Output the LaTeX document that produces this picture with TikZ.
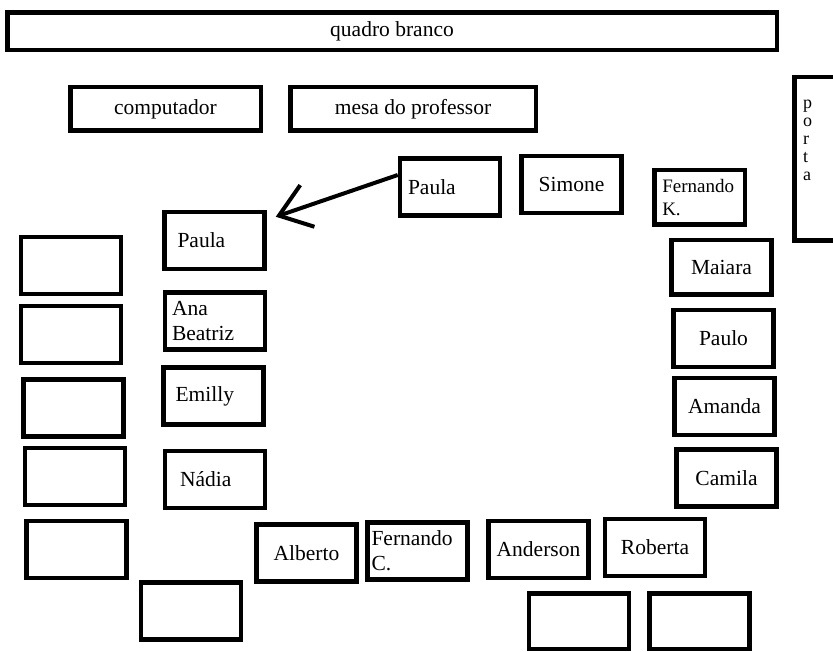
\documentclass[tikz,border=0pt]{standalone}
\usepackage{fontspec}
\setmainfont{Liberation Serif}
\usepackage{tikz}
\usetikzlibrary{arrows.meta}
\tikzset{desk/.style={draw, line width=4.5pt, inner sep=0pt, minimum width=100pt, minimum height=57pt, font=\fontsize{21.5}{25}\selectfont}}
\tikzset{deskl/.style={desk, align=left, inner xsep=8pt, text width=84pt}}

\begin{document}
\begin{tikzpicture}[x=1pt, y=-1pt]
    \useasboundingbox (0,0) rectangle (833,652);
    \node [desk, minimum width=769.5pt, minimum height=37.5pt] (quadro) at (392,31.5) {quadro branco};
    \node [desk, minimum width=190.5pt, minimum height=43.5pt] (computador) at (165.5,109) {computador};
    \node [desk, minimum width=245.5pt, minimum height=43.5pt] (mesa) at (413,109) {mesa do professor};
    \node [desk, minimum width=43.5pt, minimum height=163.5pt, font=\fontsize{18}{18}\selectfont] (porta) at (816,159)
        {\parbox[c][118pt][t]{26pt}{p\\o\\r\\t\\a}};
    \node [deskl] (paulaT) at (450,187) {Paula};
    \node [desk] (simone) at (571.5,184.5) {Simone};
    \node [deskl, minimum width=90.5pt, text width=74.5pt, minimum height=54.5pt, font=\fontsize{19}{23}\selectfont] (fernandoK) at (699.5,197.5) {Fernando\\K.};
    \node [desk, minimum height=54.5pt] (maiara) at (721.5,267.5) {Maiara};
    \node [desk] (paulo) at (723.5,338.5) {Paulo};
    \node [desk] (amanda) at (724.5,406.5) {Amanda};
    \node [desk] (camila) at (726.5,478) {Camila};
    \node [desk] (roberta) at (655,547.5) {Roberta};
    \node [desk] (anderson) at (538.5,549.5) {Anderson};
    \node [deskl, inner xsep=4pt, text width=92pt] (fernandoC) at (417.5,551) {Fernando\\C.};
    \node [desk] (alberto) at (306.5,553) {Alberto};
    \node [deskl, inner xsep=13pt, text width=74pt] (paulaL) at (214.5,240.5) {Paula};
    \node [deskl, inner xsep=7pt, text width=86pt] (anaB) at (215,321) {Ana\\Beatriz};
    \node [deskl, inner xsep=12pt, text width=76pt] (emilly) at (213.5,396) {Emilly};
    \node [deskl, inner xsep=15pt, text width=70pt] (nadia) at (215,479.5) {Nádia};
    \node [desk] (vazia1) at (71,265.5) {};
    \node [desk] (vazia2) at (71,334.5) {};
    \node [desk] (vazia3) at (73.5,408) {};
    \node [desk] (vazia4) at (75,476.5) {};
    \node [desk] (vazia5) at (76.5,549.5) {};
    \node [desk] (vazia6) at (191,611) {};
    \node [desk, minimum height=55.5pt] (vazia7) at (579,621) {};
    \node [desk, minimum height=55.5pt] (vazia8) at (699.5,621) {};
    \draw [line width=4pt, -{Straight Barb[length=30pt, width=44pt]}] ([yshift=12pt]paulaT.west) -- ([xshift=9pt, yshift=-7pt]paulaL.north east);
\end{tikzpicture}
\end{document}
